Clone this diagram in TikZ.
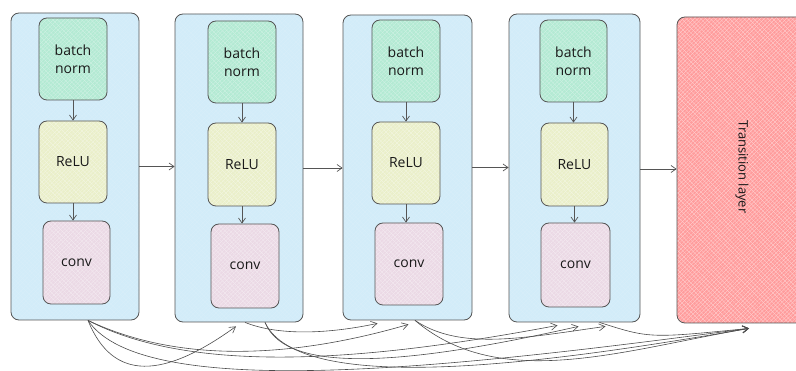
\documentclass[tikz,border=0pt]{standalone}
\usepackage{fontspec}
\setmainfont{Open Sans}
\usetikzlibrary{arrows.meta,patterns.meta}

\definecolor{edge}{HTML}{555555}
\definecolor{blockfill}{HTML}{D2ECF9}
\definecolor{bnfill}{HTML}{B3EAD3}
\definecolor{relufill}{HTML}{EAEFC9}
\definecolor{convfill}{HTML}{EBD9E5}
\definecolor{transfill}{HTML}{FF9C9C}

\tikzset{
  % flat fill with a light cross-hatch, stroked afterwards
  hatched/.style 2 args={
    preaction={fill=#1},
    preaction={pattern={Lines[angle=45,distance=2.6pt,line width=0.3pt]}, pattern color=#2},
    preaction={pattern={Lines[angle=-45,distance=3.4pt,line width=0.3pt]}, pattern color=#2}},
  sketch/.style={draw=edge, line width=0.8pt, rounded corners=8pt, inner sep=0pt},
  block/.style={sketch, hatched={blockfill}{blockfill!85!white}},
  layerbox/.style={sketch, minimum width=68pt, minimum height=82pt,
    font=\fontsize{14}{18}\selectfont, align=center, text=black!90},
  bn/.style={layerbox, hatched={bnfill}{bnfill!60!white}},
  relu/.style={layerbox, hatched={relufill}{relufill!50!white}},
  convbox/.style={layerbox, hatched={convfill}{convfill!50!white}},
  arr/.style={draw=edge, line width=0.7pt, -{Straight Barb[length=5pt,width=7pt]}},
  skip/.style={draw=edge!90!black, line width=0.6pt, -{Straight Barb[length=6pt,width=7pt]}},
}

\begin{document}
\begin{tikzpicture}[x=1pt,y=-1pt]
\useasboundingbox (0,0) rectangle (796,371);
\clip (0,0) rectangle (796,371);

% dense blocks
\node[block, minimum width=128pt, minimum height=307pt] (B1) at (75,166.5) {};
\node[block, minimum width=128pt, minimum height=308pt] (B2) at (239,168) {};
\node[block, minimum width=129pt, minimum height=305pt] (B3) at (407.5,167.5) {};
\node[block, minimum width=131pt, minimum height=308pt] (B4) at (574.5,168) {};

% transition layer
\node[sketch, hatched={transfill}{white!55!transfill}, minimum width=132pt, minimum height=306pt] (T) at (743,170) {};
\node[rotate=-90, font=\fontsize{13}{16}\selectfont, text=black!90] (Tl) at (742,167) {Transition layer};

% layers inside each block
\node[bn] (bn1) at (73,59) {batch\\norm};
\node[relu] (re1) at (73,162) {ReLU};
\node[convbox, minimum width=67pt, minimum height=83pt] (cv1) at (76.5,262.5) {conv};

\node[bn] (bn2) at (242,62) {batch\\norm};
\node[relu, minimum height=83pt] (re2) at (242,164.5) {ReLU};
\node[convbox, minimum height=84pt] (cv2) at (245,266) {conv};

\node[bn] (bn3) at (406,61) {batch\\norm};
\node[relu] (re3) at (406,163) {ReLU};
\node[convbox] (cv3) at (409,264) {conv};

\node[bn, minimum width=67pt] (bn4) at (573.5,61) {batch\\norm};
\node[relu, minimum width=67pt, minimum height=83pt] (re4) at (574.5,164.5) {ReLU};
\node[convbox, minimum width=69pt, minimum height=84pt] (cv4) at (575.5,265) {conv};

% flow inside the blocks
\foreach \i in {1,2,3,4}{
  \draw[arr] (bn\i.south) -- (bn\i.south |- re\i.north);
  \draw[arr] (re\i.south) -- (re\i.south |- cv\i.north);
}

% flow between blocks
\draw[arr] (B1.east) -- (B1.east -| B2.west);
\draw[arr] (B2.east) -- (B2.east -| B3.west);
\draw[arr] (B3.east) -- (B3.east -| B4.west);
\draw[arr] ([yshift=-1pt]B4.east) -- ([yshift=-1pt]B4.east -| T.west);

% outputs and inputs of the dense skip connections
\coordinate (o1) at ([xshift=13pt]B1.south);
\coordinate (o2a) at ([xshift=6pt]B2.south);
\coordinate (o2) at ([xshift=26pt]B2.south);
\coordinate (o3) at ([xshift=7.5pt]B3.south);
\coordinate (o4) at ([xshift=25pt]B4.south);

\coordinate (t21) at ([xshift=-3pt,yshift=-4pt]B2.south);
\coordinate (t31) at ([xshift=-30pt,yshift=-3pt]B3.south);
\coordinate (t32) at ([xshift=1pt,yshift=-4pt]B3.south);
\coordinate (t41) at ([xshift=-17pt,yshift=-3pt]B4.south);
\coordinate (t42) at ([xshift=4pt,yshift=-4pt]B4.south);
\coordinate (t43) at ([xshift=31pt,yshift=-4pt]B4.south);
\coordinate (t5) at ([xshift=6pt,yshift=-5pt]T.south);

% dense skip connections
\draw[skip] (o1) .. controls +(25,62) and +(-72,52) .. (t21);
\draw[skip] (o1) .. controls +(95,45) and +(-110,32) .. (t32);
\draw[skip] (o1) .. controls +(115,60) and +(-160,30) .. (t41);
\draw[skip] (o1) .. controls +(55,82) and +(-300,40) .. (t5);
\draw[skip] (o2a) .. controls +(35,14) and +(-47,10) .. (t31);
\draw[skip] (o2) .. controls +(22,55) and +(-160,36) .. (t42);
\draw[skip] (o2) .. controls +(35,75) and +(-200,35) .. (t5);
\draw[skip] (o3) .. controls +(45,30) and +(-85,12) .. (t43);
\draw[skip] (o3) .. controls +(85,72) and +(-128,22) .. (t5);
\draw[skip] (o4) .. controls +(50,16) .. (t5);
\end{tikzpicture}
\end{document}
